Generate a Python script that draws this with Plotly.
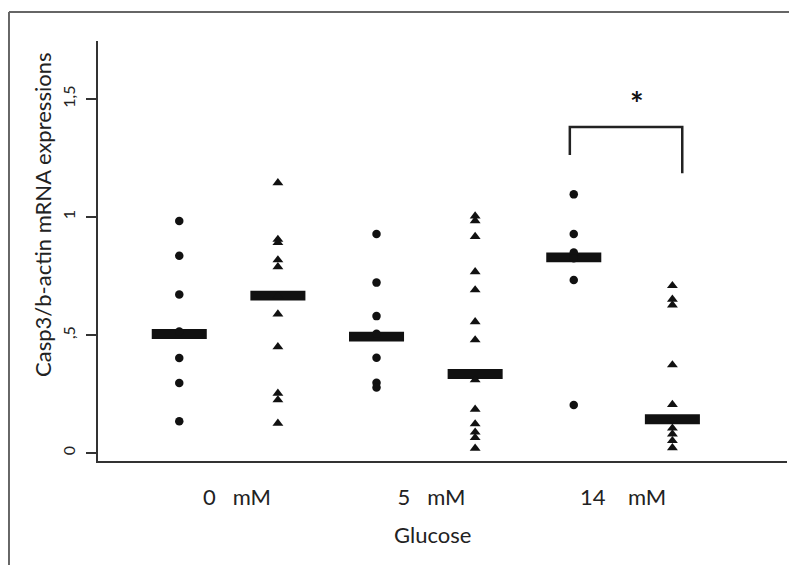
import plotly.graph_objects as go

# ---- data ----
NB = "\u00a0"
groups = [NB * 3 + "0" + NB * 3 + "mM", NB * 2 + "5" + NB * 3 + "mM", "14" + NB * 4 + "mM"]
group_pos = [0, 1, 2]

circ_0mM = [0.983, 0.836, 0.672, 0.515, 0.403, 0.297, 0.134]
tri_0mM = [1.145, 0.905, 0.891, 0.818, 0.789, 0.665, 0.589, 0.450, 0.253, 0.225, 0.126]
circ_5mM = [0.928, 0.722, 0.580, 0.505, 0.404, 0.298, 0.278]
tri_5mM = [1.004, 0.984, 0.917, 0.768, 0.691, 0.556, 0.479, 0.310, 0.185, 0.123, 0.088, 0.065, 0.020]
circ_14mM = [1.096, 0.928, 0.850, 0.825, 0.733, 0.203]
tri_14mM = [0.709, 0.651, 0.627, 0.373, 0.205, 0.140, 0.105, 0.080, 0.052, 0.022]

median_circ = [0.504, 0.493, 0.829]
median_tri = [0.667, 0.335, 0.143]

ytick_vals = [0, 0.5, 1, 1.5]
ytick_text = ["0", ",5", "1", "1,5"]

bracket_x = [1.73, 1.73, 2.30, 2.30]
bracket_y = [1.263, 1.381, 1.381, 1.186]

# ---- layout constants ----
OFF = 0.25
BAR_W = 0.279
BAR_H = 0.042
FONT = "Lato"
INK = "#111111"

circ_sets = [circ_0mM, circ_5mM, circ_14mM]
tri_sets = [tri_0mM, tri_5mM, tri_14mM]

fig = go.Figure()

cx, cy, tx, ty = [], [], [], []
for g, c, t in zip(group_pos, circ_sets, tri_sets):
    cx += [g - OFF] * len(c)
    cy += c
    tx += [g + OFF] * len(t)
    ty += t

fig.add_trace(go.Scatter(x=cx, y=cy, mode="markers",
                         marker=dict(symbol="circle", size=8.5, color=INK, line=dict(width=0)),
                         showlegend=False, hoverinfo="skip"))
fig.add_trace(go.Scatter(x=tx, y=ty, mode="markers",
                         marker=dict(symbol="triangle-up", size=9.5, color=INK, line=dict(width=0)),
                         showlegend=False, hoverinfo="skip"))

# median bars
bx = [g - OFF for g in group_pos] + [g + OFF for g in group_pos]
bm = median_circ + median_tri
fig.add_trace(go.Bar(x=bx, y=[BAR_H] * len(bm), base=[m - BAR_H / 2 for m in bm],
                     width=BAR_W, marker=dict(color=INK, line=dict(width=0)),
                     showlegend=False, hoverinfo="skip"))

# significance bracket
fig.add_trace(go.Scatter(x=bracket_x, y=bracket_y, mode="lines",
                         line=dict(color="#222222", width=2.5),
                         showlegend=False, hoverinfo="skip"))

fig.add_annotation(x=2.07, y=1.48, text="<b>*</b>", showarrow=False,
                   xanchor="center", yanchor="middle",
                   font=dict(family=FONT, size=32, color=INK))

# axis titles
fig.add_annotation(xref="paper", yref="paper", x=0.486, y=-0.176, text="Glucose",
                   xanchor="center", yanchor="middle",
                   showarrow=False, font=dict(family=FONT, size=22, color="#222222"))
fig.add_annotation(xref="paper", yref="paper", x=-0.0798, y=0.586,
                   xanchor="center", yanchor="middle",
                   text="Casp3/b-actin mRNA expressions", textangle=-90,
                   showarrow=False, font=dict(family=FONT, size=22, color="#222222"))

# outer frame (top and left)
fig.add_shape(type="line", xref="paper", yref="paper", x0=-0.1292, x1=1.3, y0=1.069, y1=1.069,
              line=dict(color="#666666", width=2))
fig.add_shape(type="line", xref="paper", yref="paper", x0=-0.1292, x1=-0.1292, y0=-0.4, y1=1.069,
              line=dict(color="#666666", width=2))

fig.update_layout(
    width=797, height=565,
    margin=dict(l=90, r=18, t=33, b=112),
    paper_bgcolor="white", plot_bgcolor="white",
    barmode="overlay",
    font=dict(family=FONT, color="#222222"),
    xaxis=dict(range=[-0.662, 2.831], tickvals=group_pos, ticktext=groups,
               showline=True, linecolor="#333333", linewidth=2, ticks="",
               showgrid=False, zeroline=False, tickfont=dict(size=22, family=FONT),
               ticklabelstandoff=16),
    yaxis=dict(range=[-0.034, 1.746], tickvals=ytick_vals, ticktext=ytick_text,
               showline=True, linecolor="#333333", linewidth=2, ticks="outside",
               ticklen=10, tickwidth=1.5, tickcolor="#333333", tickangle=-90,
               showgrid=False, zeroline=False, tickfont=dict(size=16, family=FONT),
               ticklabelstandoff=5),
)

fig.write_html("out.html")
